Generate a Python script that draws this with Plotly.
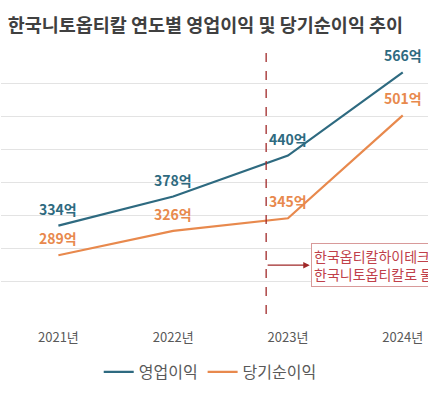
import plotly.graph_objects as go

# data
years = ["2021년", "2022년", "2023년", "2024년"]
op_profit = [334, 378, 440, 566]      # 영업이익 (억)
net_profit = [289, 326, 345, 501]     # 당기순이익 (억)
series_names = ["영업이익", "당기순이익"]
split_pos = 1.81                       # 분할 시점 (카테고리 축 위치)
note_pos = 2.20                        # 설명 박스 왼쪽 위치
note_lines = ["한국옵티칼하이테크에서", "한국니토옵티칼로 물적분할"]

BLUE = "#2E6A80"
ORANGE = "#E8894D"
FONT = "Noto Sans CJK KR"

fig = go.Figure()
fig.add_trace(go.Scatter(x=years, y=op_profit, mode="lines", name=series_names[0],
                         line=dict(color=BLUE, width=2.2)))
fig.add_trace(go.Scatter(x=years, y=net_profit, mode="lines", name=series_names[1],
                         line=dict(color=ORANGE, width=2.2)))

# value labels above points
annotations = []
for vals, col in ((op_profit, BLUE), (net_profit, ORANGE)):
    for yr, v in zip(years, vals):
        annotations.append(dict(x=yr, y=v, text=f"{v}억", showarrow=False,
                                yshift=17, yanchor="middle", xanchor="center",
                                font=dict(family=FONT, size=14, color=col, weight="bold")))

# 분할 표시 박스 + 화살표
annotations.append(dict(x=note_pos, y=274, xref="x", yref="y", text="<br>".join(note_lines),
                        showarrow=False, xanchor="left", yanchor="middle", align="left",
                        bordercolor="#D89A9A", borderwidth=1, borderpad=2, bgcolor="white",
                        font=dict(family=FONT, size=14, color="#C0404A")))
annotations.append(dict(x=note_pos - 0.01, y=274, ax=split_pos, ay=274, xref="x", yref="y",
                        axref="x", ayref="y", text="", showarrow=True,
                        arrowhead=2, arrowsize=1, arrowwidth=1.3, arrowcolor="#A02828",
                        startstandoff=0, standoff=0))

fig.add_shape(type="line", x0=split_pos, x1=split_pos, y0=200, y1=600, xref="x", yref="y",
              line=dict(color="#A02828", width=1.3, dash="dash"))

fig.update_layout(
    width=428, height=400,
    margin=dict(l=1, r=0, t=50, b=86),
    paper_bgcolor="white", plot_bgcolor="white",
    font=dict(family=FONT, color="#595959"),
    title=dict(text="한국니토옵티칼 연도별 영업이익 및 당기순이익 추이",
               x=0.018, xanchor="left", y=0.935, yanchor="middle",
               font=dict(family=FONT, size=18.5, color="#404040", weight="bold")),
    xaxis=dict(type="category", range=[-0.5, 3.22], showgrid=False, showline=False,
               ticks="", ticklabelstandoff=14, tickfont=dict(size=13, color="#595959")),
    yaxis=dict(range=[200, 600], dtick=50, showticklabels=False, gridcolor="#E3E3E3",
               gridwidth=1, zeroline=False, showline=False),
    legend=dict(orientation="h", x=0.49, xanchor="center", y=-0.155, yanchor="top",
                font=dict(size=16, color="#595959"), itemwidth=30),
    annotations=annotations,
)

fig.write_html("out.html", config={"displayModeBar": False},
               post_script="document.body.style.margin='0px';")
